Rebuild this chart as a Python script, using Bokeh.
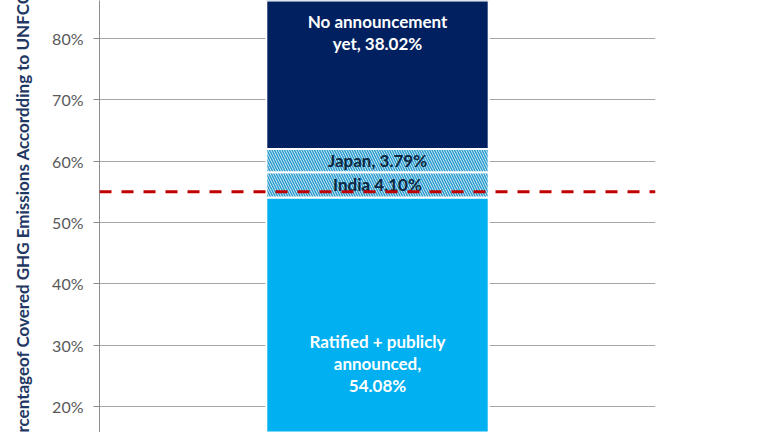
import numpy as np
from bokeh.plotting import figure
from bokeh.models import Range1d, FactorRange, FixedTicker, PrintfTickFormatter, Span
from bokeh.core.properties import value
from bokeh.embed import file_html
from bokeh.resources import INLINE

category = ["Paris Agreement"]
segment_names = ["Ratified + publicly announced", "India", "Japan", "No announcement yet"]
segment_values = [54.08, 4.10, 3.79, 38.02]
segment_labels = ["Ratified + publicly\nannounced,\n54.08%", "India 4.10%", "Japan, 3.79%",
                  "No announcement\nyet, 38.02%"]
threshold = 55.0
y_ticks = [10, 20, 30, 40, 50, 60, 70, 80, 90]
y_axis_title = "Percentageof Covered GHG Emissions Accordding to UNFCCC"

FONT = "Lato"

p = figure(width=768, height=432, output_backend="svg", toolbar_location=None,
           x_range=FactorRange(*category, range_padding=0),
           y_range=Range1d(15.76, 86.2),
           min_border_left=99, min_border_right=113, min_border_top=0, min_border_bottom=0)
p.outline_line_color = None
p.xaxis.visible = False
p.xgrid.grid_line_color = None
p.ygrid.grid_line_color = "#A6A6A6"
p.ygrid.grid_line_width = 1
p.yaxis.ticker = FixedTicker(ticks=y_ticks)
p.yaxis.formatter = PrintfTickFormatter(format="%d%%")
p.yaxis.axis_line_color = "#8C8C8C"
p.yaxis.major_tick_line_color = "#8C8C8C"
p.yaxis.major_tick_out = 6
p.yaxis.major_tick_in = 0
p.yaxis.minor_tick_line_color = None
p.yaxis.major_label_text_font = FONT
p.yaxis.major_label_text_font_size = "16px"
p.yaxis.major_label_text_color = "#595959"
p.yaxis.major_label_standoff = 10
p.yaxis.axis_label = y_axis_title
p.yaxis.axis_label_text_font = FONT
p.yaxis.axis_label_text_font_style = "bold"
p.yaxis.axis_label_text_font_size = "17px"
p.yaxis.axis_label_text_color = "#1F3864"
p.yaxis.axis_label_standoff = 16

bottoms = np.concatenate([[0], np.cumsum(segment_values)[:-1]])
tops = bottoms + np.array(segment_values)

styles = [
    dict(fill_color="#00B0F0"),
    dict(fill_color="#EEF8FC", hatch_pattern="\\", hatch_color="#2E9ED0", hatch_scale=5, hatch_weight=1.6),
    dict(fill_color="#EEF8FC", hatch_pattern="\\", hatch_color="#2E9ED0", hatch_scale=5, hatch_weight=1.6),
    dict(fill_color="#002060"),
]
text_colors = ["white", "#0E2841", "#0E2841", "white"]

for i in range(len(segment_values)):
    p.vbar(x=[category[0]], bottom=[bottoms[i]], top=[tops[i]], width=0.4,
           line_color="white", line_width=2, **styles[i])

span = Span(location=threshold, dimension="width", line_color="#C00000",
            line_width=3, line_dash="12 10")
p.add_layout(span)

for i in range(len(segment_values)):
    p.text(x=[category[0]], y=[(bottoms[i] + tops[i]) / 2], text=[segment_labels[i]],
           text_align="center", text_baseline="middle", text_font=value(FONT),
           text_font_style="bold", text_font_size="17px", text_color=text_colors[i],
           text_line_height=1.05)

open("out.html", "w").write(file_html(p, INLINE))
